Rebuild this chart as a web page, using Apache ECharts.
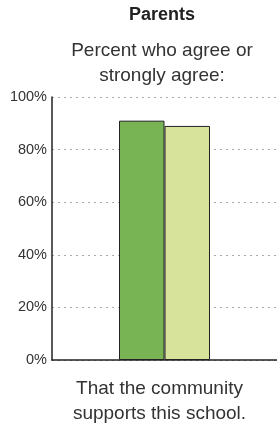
<!DOCTYPE html>
<html>
<head>
<meta charset="utf-8">
<script src="https://cdn.jsdelivr.net/npm/echarts@6/dist/echarts.min.js"></script>
<style>
  html, body { margin: 0; padding: 0; background: #fff; }
  #chart { width: 277px; height: 428px; }
</style>
</head>
<body>
<div id="chart"></div>
<script>
// data
const categories = ['That the community\nsupports this school.'];
const schoolValues = [91];
const comparisonValues = [89];
const yTicks = [0, 20, 40, 60, 80, 100];

const chart = echarts.init(document.getElementById('chart'));
const font = 'Arial, "Liberation Sans", sans-serif';

chart.setOption({
  animation: false,
  title: [
    {
      text: 'Parents',
      left: 162, top: 5, textAlign: 'center', padding: 0,
      textStyle: { fontFamily: font, fontSize: 18, fontWeight: 'bold', color: '#222', lineHeight: 20 }
    },
    {
      text: 'Percent who agree or\nstrongly agree:',
      left: 162, top: 38, textAlign: 'center', padding: 0,
      textStyle: { fontFamily: font, fontSize: 19, fontWeight: 'normal', color: '#333', lineHeight: 25 }
    }
  ],
  grid: { left: 52, right: -3, top: 97, bottom: 68 },
  xAxis: {
    type: 'category',
    data: categories,
    axisLine: { lineStyle: { color: '#222', width: 1.5 } },
    axisTick: { show: false },
    axisLabel: {
      fontFamily: font, fontSize: 19, color: '#333', lineHeight: 25, margin: 16,
      padding: [0, 10, 0, 0]
    }
  },
  yAxis: {
    type: 'value',
    min: 0, max: 100, interval: 20,
    axisLine: { show: true, lineStyle: { color: '#222', width: 1.5 } },
    axisTick: { show: false },
    axisLabel: {
      fontFamily: font, fontSize: 14.5, color: '#333', margin: 5,
      formatter: v => yTicks.includes(v) ? v + '%' : ''
    },
    splitLine: { lineStyle: { color: '#aaa', type: [2, 4], width: 1 } }
  },
  series: [
    {
      type: 'bar',
      data: schoolValues,
      barWidth: 45.5,
      barGap: 0,
      itemStyle: { color: '#78b354', borderColor: '#222', borderWidth: 1 }
    },
    {
      type: 'bar',
      data: comparisonValues,
      barWidth: 45.5,
      itemStyle: { color: '#d7e29a', borderColor: '#222', borderWidth: 1 }
    }
  ]
});
</script>
</body>
</html>
